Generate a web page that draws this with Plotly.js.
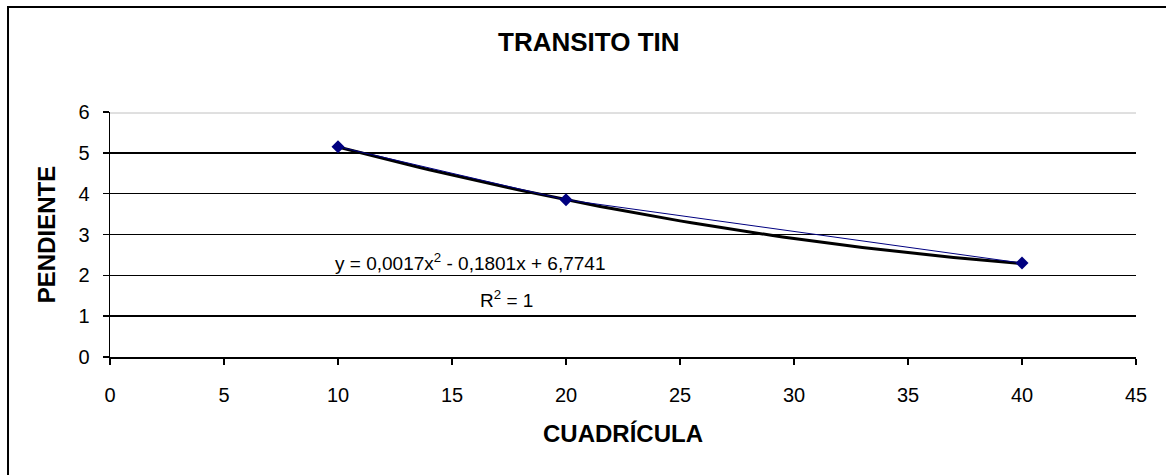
<!DOCTYPE html>
<html>
<head>
<meta charset="utf-8">
<script src="https://cdn.plot.ly/plotly-3.0.1.min.js"></script>
<style>html,body{margin:0;padding:0;background:#fff;}#chart{width:1166px;height:475px;}</style>
</head>
<body>
<div id="chart"></div>
<script>
// Data
const cuadricula = [10, 20, 40];
const pendiente = [5.15, 3.85, 2.3];
// Polynomial trendline coefficients as printed on the chart: a*x^2 + b*x + c
const trendCoef = [0.0017, -0.1801, 6.7741];
const trendRange = [10, 40];
const yTicks = [0, 1, 2, 3, 4, 5, 6];
const xTicks = [0, 5, 10, 15, 20, 25, 30, 35, 40, 45];
const equationText = 'y = 0,0017x<sup>2</sup> - 0,1801x + 6,7741';
const r2Text = 'R<sup>2</sup> = 1';

const tx = [], ty = [];
for (let i = 0; i <= 60; i++) {
  const x = trendRange[0] + (trendRange[1] - trendRange[0]) * i / 60;
  tx.push(x);
  ty.push(trendCoef[0] * x * x + trendCoef[1] * x + trendCoef[2]);
}

const FONT = 'Liberation Sans, Arial, sans-serif';

const traces = [
  {x: tx, y: ty, mode: 'lines', line: {color: '#000000', width: 3}, hoverinfo: 'skip'},
  {x: cuadricula, y: pendiente, mode: 'lines+markers',
   line: {color: '#000080', width: 1},
   marker: {symbol: 'diamond', size: 10, color: '#000080'}}
];

const layout = {
  width: 1166, height: 475,
  margin: {l: 110, r: 30, t: 112, b: 118},
  paper_bgcolor: '#ffffff', plot_bgcolor: '#ffffff',
  showlegend: false,
  font: {family: FONT, color: '#000', size: 20},
  title: {text: '<b>TRANSITO TIN</b>', x: 0.505, xref: 'container', xanchor: 'center', y: 0.911, yref: 'container', yanchor: 'middle',
          font: {family: FONT, size: 26, color: '#000'}},
  xaxis: {
    range: [0, 45], tickvals: xTicks, ticktext: xTicks.map(String),
    showgrid: false, zeroline: false,
    showline: true, linecolor: '#000', linewidth: 1.5,
    ticks: 'outside', ticklen: 6, tickcolor: '#000', tickwidth: 1.5,
    ticklabelstandoff: 13,
    tickfont: {family: FONT, size: 20, color: '#000'},
    title: {text: '<b>CUADRÍCULA</b>', font: {family: FONT, size: 24, color: '#000'}, standoff: 20}
  },
  yaxis: {
    range: [0, 6], tickvals: yTicks, ticktext: yTicks.map(String),
    showgrid: true, gridcolor: '#000', gridwidth: 1.5, zeroline: false,
    showline: true, linecolor: '#000', linewidth: 1.5,
    ticks: 'outside', ticklen: 6, tickcolor: '#000', tickwidth: 1.5,
    ticklabelstandoff: 9,
    tickfont: {family: FONT, size: 20, color: '#000'},
    title: {text: '<b>PENDIENTE</b>', font: {family: FONT, size: 24, color: '#000'}, standoff: 16}
  },
  shapes: [
    {type: 'line', xref: 'paper', yref: 'y', x0: 0, x1: 1, y0: 6, y1: 6, line: {color: '#c0c0c0', width: 3}, layer: 'above'},
    {type: 'line', xref: 'paper', yref: 'y', x0: 0, x1: 1, y0: 6, y1: 6, line: {color: '#ffffff', width: 1}, layer: 'above'},
    {type: 'rect', xref: 'paper', yref: 'paper', x0: -0.0994, x1: 1.2, y0: -1, y1: 1.4286, line: {color: '#000', width: 2}, fillcolor: 'rgba(0,0,0,0)'}
  ],
  annotations: [
    {xref: 'x', yref: 'y', x: 15.8, y: 2.33, text: equationText, showarrow: false, xanchor: 'center', yanchor: 'middle',
     font: {family: FONT, size: 19, color: '#000'}},
    {xref: 'x', yref: 'y', x: 17.4, y: 1.42, text: r2Text, showarrow: false, xanchor: 'center', yanchor: 'middle',
     font: {family: FONT, size: 19, color: '#000'}}
  ]
};

Plotly.newPlot('chart', traces, layout, {displayModeBar: false, staticPlot: true});
</script>
</body>
</html>
